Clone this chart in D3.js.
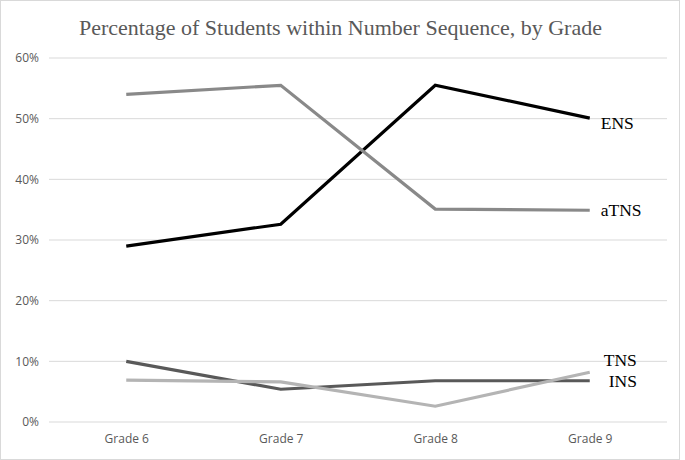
<!DOCTYPE html>
<html>
<head>
<meta charset="utf-8">
<script src="https://cdn.jsdelivr.net/npm/d3@7"></script>
<style>
  body { margin: 0; background: #fff; }
</style>
</head>
<body>
<div id="chart"></div>
<script>
// Data
var grades = ["Grade 6", "Grade 7", "Grade 8", "Grade 9"];
var ens  = [29.0, 32.6, 55.5, 50.1];
var atns = [54.0, 55.5, 35.1, 34.9];
var tns  = [6.9, 6.6, 2.6, 8.2];
var ins  = [10.0, 5.4, 6.8, 6.8];
var yTicks = [0, 10, 20, 30, 40, 50, 60];

var series = [
  {name: "ENS",  values: ens,  color: "#000000", labelDy: 5},
  {name: "aTNS", values: atns, color: "#898989", labelDy: 0},
  {name: "INS",  values: ins,  color: "#595959", labelDy: 0, labelDx: 8},
  {name: "TNS",  values: tns,  color: "#b4b4b4", labelDy: -12, labelDx: 3}
];

var W = 685, H = 460;
var margin = {top: 58, right: 18, bottom: 38, left: 49},
    width = W - margin.left - margin.right,
    height = H - margin.top - margin.bottom;

var svg = d3.select("#chart").append("svg")
    .attr("width", W)
    .attr("height", H);

// outer border
svg.append("rect")
  .attr("x", 0.5).attr("y", 0.5)
  .attr("width", W - 6).attr("height", H - 1)
  .attr("fill", "white")
  .attr("stroke", "#d9d9d9");

// Title
svg.append("text")
  .attr("x", W / 2 - 2)
  .attr("y", 35)
  .attr("text-anchor", "middle")
  .style("font-family", "'Liberation Serif', 'Times New Roman', serif")
  .style("font-size", "22px")
  .style("fill", "#595959")
  .text("Percentage of Students within Number Sequence, by Grade");

var g = svg.append("g")
  .attr("transform", "translate(" + margin.left + "," + margin.top + ")");

var x = d3.scalePoint().domain(grades).range([0, width]).padding(0.5);
var y = d3.scaleLinear().domain([0, 60]).range([height, 0]);

// Gridlines
g.selectAll(".grid")
  .data(yTicks)
  .enter().append("line")
    .attr("x1", 0).attr("x2", width)
    .attr("y1", function(d) { return y(d); })
    .attr("y2", function(d) { return y(d); })
    .attr("stroke", "#d9d9d9")
    .attr("stroke-width", 1);

// Y axis
var yAxis = g.append("g")
  .call(d3.axisLeft(y).tickValues(yTicks).tickSize(0).tickPadding(10)
    .tickFormat(function(d) { return d + "%"; }));
yAxis.select(".domain").remove();
yAxis.selectAll("text")
  .style("font-family", "'Open Sans', 'Liberation Sans', sans-serif")
  .style("font-size", "12px")
  .style("fill", "#595959");

// X axis
var xAxis = g.append("g")
  .attr("transform", "translate(0," + height + ")")
  .call(d3.axisBottom(x).tickSize(0).tickPadding(12));
xAxis.select(".domain").remove();
xAxis.selectAll("text")
  .style("font-family", "'Open Sans', 'Liberation Sans', sans-serif")
  .style("font-size", "12px")
  .style("fill", "#595959");

// Lines
var line = d3.line()
  .x(function(d, i) { return x(grades[i]); })
  .y(function(d) { return y(d); });

g.selectAll(".series")
  .data(series)
  .enter().append("path")
    .attr("d", function(d) { return line(d.values); })
    .attr("fill", "none")
    .attr("stroke", function(d) { return d.color; })
    .attr("stroke-width", 3.2);

// End labels
g.selectAll(".lbl")
  .data(series)
  .enter().append("text")
    .attr("x", function(d) { return x(grades[grades.length - 1]) + 11 + (d.labelDx || 0); })
    .attr("y", function(d) { return y(d.values[d.values.length - 1]) + d.labelDy; })
    .attr("dy", "0.35em")
    .style("font-family", "'Liberation Serif', 'Times New Roman', serif")
    .style("font-size", "17.5px")
    .style("fill", "#000")
    .text(function(d) { return d.name; });
</script>
</body>
</html>
